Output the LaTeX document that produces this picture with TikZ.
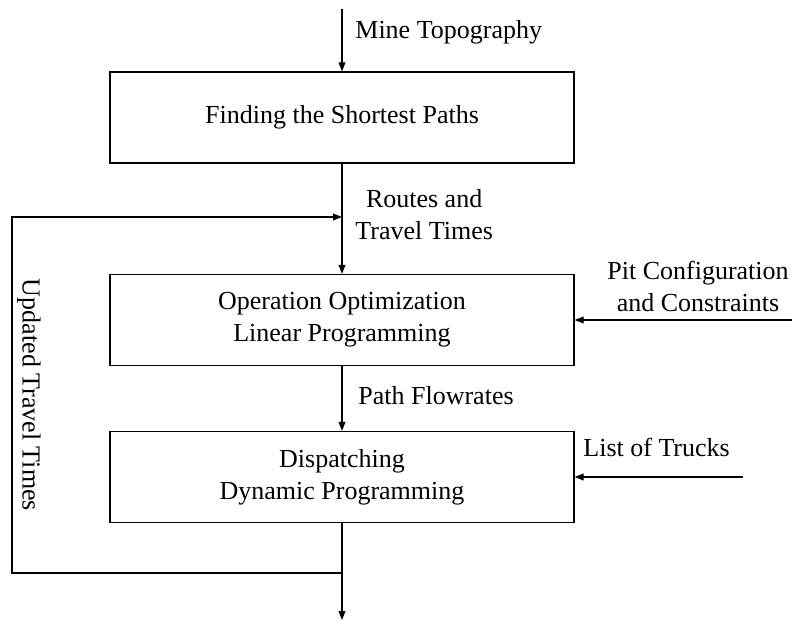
\documentclass[tikz,border=0pt]{standalone}
\usepackage{fontspec}
\setmainfont{Liberation Serif}
\usetikzlibrary{arrows.meta,positioning,calc}
\tikzset{
  stage/.style={draw, line width=0.6pt, minimum width=232pt, minimum height=45.5pt,
    align=center, inner sep=0pt},
  flow/.style={line width=0.6pt, -{Triangle[length=4.5pt,width=3.4pt]}},
  lbl/.style={align=center, inner sep=0pt},
}
\begin{document}
\begin{tikzpicture}[x=0.5pt,y=0.5pt,font=\fontsize{13}{16}\selectfont]
  \useasboundingbox (0,0) rectangle (792,623);
  % the three stages
  \node[stage] (paths) at (342,505.5) {Finding the Shortest Paths};
  \node[stage] (optim) at (342,303) {Operation Optimization\\Linear Programming};
  \node[stage] (dispatch) at (342,146) {Dispatching\\Dynamic Programming};
  % free ends
  \coordinate (topo in) at (342,614);
  \coordinate (pit in) at (792,303);
  \coordinate (trucks in) at (743,146);
  \coordinate (out) at (342,3);
  \coordinate (fb start) at (342,50);
  \coordinate (fb corner) at (12,406);
  \coordinate (fb end) at (342,406);
  % main flow
  \draw[flow] (topo in) -- (paths);
  \draw[flow] (paths) -- (optim);
  \draw[flow] (optim) -- (dispatch);
  \draw[flow] (dispatch) -- (out);
  \draw[flow] (pit in) -- (optim);
  \draw[flow] (trucks in) -- (dispatch);
  \draw[flow] (fb start) -| (fb corner) -- (fb end);
  % labels
  \node[lbl, anchor=west] (topo) at (355,591) {Mine Topography};
  \node[lbl, anchor=west] (routes) at (355,408) {Routes and\\Travel Times};
  \node[lbl, anchor=west] (flowrates) at (358,227) {Path Flowrates};
  \node[lbl] (pit) at (698,337) {Pit Configuration\\and Constraints};
  \node[lbl, anchor=west] (trucks) at (583,176) {List of Trucks};
  \node[lbl, rotate=-90] (updated) at (29,228) {Updated Travel Times};
\end{tikzpicture}
\end{document}
